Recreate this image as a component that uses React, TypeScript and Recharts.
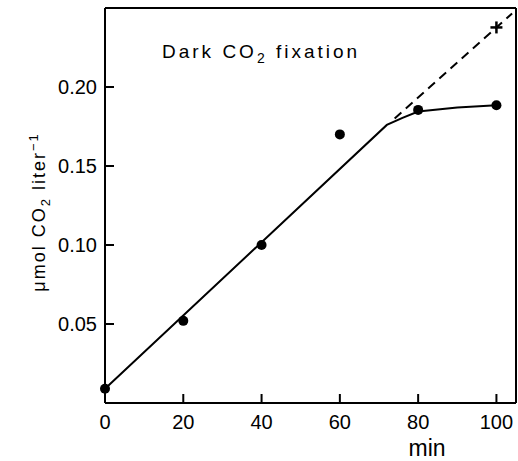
import React from 'react';
import { ComposedChart, Line, Scatter, XAxis, YAxis, ReferenceLine, Customized } from 'recharts';

const timeMin = [0, 20, 40, 60, 80, 100];
const measured = [0.009, 0.052, 0.1, 0.17, 0.1855, 0.1885];
const fitX = [0, 72, 76, 80, 90, 100];
const fitY = [0.009, 0.176, 0.1805, 0.1845, 0.187, 0.1885];
const extX = [74, 104];
const extY = [0.18, 0.2465];
const crossX = [100];
const crossY = [0.2377];
const xTicks = [0, 20, 40, 60, 80, 100];
const yTicks = [0.05, 0.1, 0.15, 0.2];

const pointData = timeMin.map((x, i) => ({ x, y: measured[i] }));
const fitData = fitX.map((x, i) => ({ x, y: fitY[i] }));
const extData = extX.map((x, i) => ({ x, y: extY[i] }));
const crossData = crossX.map((x, i) => ({ x, y: crossY[i] }));

const FONT = '"Liberation Sans", Arial, sans-serif';
// inward tick mark lengths, in axis units (about 9 px each)
const X_TICK_LEN = 0.0057;
const Y_TICK_LEN = 2.3;

const YTick = (p: any) => (
  <text x={Number(p.x)} y={Number(p.y)} dy="0.36em" textAnchor="end" fontFamily={FONT} fontSize={20} fill="#000">
    {Number(p.payload.value).toFixed(2)}
  </text>
);

const XTick = (p: any) => (
  <text x={Number(p.x)} y={Number(p.y)} textAnchor="middle" fontFamily={FONT} fontSize={20} fill="#000">
    {p.payload.value}
  </text>
);

const Dot = (p: any) => <circle cx={p.cx} cy={p.cy} r={5} fill="#000" />;
const Cross = (p: any) => (
  <g stroke="#000" strokeWidth={2.5}>
    <line x1={p.cx - 6} y1={p.cy} x2={p.cx + 6} y2={p.cy} />
    <line x1={p.cx} y1={p.cy - 6} x2={p.cx} y2={p.cy + 6} />
  </g>
);

const Title = () => (
  <text x={162} y={58} fontFamily={FONT} fontSize={19} letterSpacing={3} fill="#000">
    <tspan>Dark CO</tspan>
    <tspan dy={5} fontSize={14}>2</tspan>
    <tspan dy={-5}> fixation</tspan>
  </text>
);

const YLabel = () => (
  <text
    x={45}
    y={212}
    transform="rotate(-90, 45, 212)"
    textAnchor="middle"
    fontFamily={FONT}
    fontSize={18}
    letterSpacing={2}
    fill="#000"
  >
    <tspan>μmol CO</tspan>
    <tspan dy={5} fontSize={13}>2</tspan>
    <tspan dy={-5}> liter</tspan>
    <tspan dy={-7} fontSize={13}>−1</tspan>
  </text>
);

const XLabel = () => (
  <text x={427} y={456} textAnchor="middle" fontFamily={FONT} fontSize={23} fill="#000">
    min
  </text>
);

const axisLineStyle = { stroke: '#000', strokeWidth: 2 };

export default function App() {
  return (
    <div style={{ position: 'absolute', left: 0, top: 0, background: '#fff' }}>
      <ComposedChart width={518} height={461} margin={{ top: 7, right: 1, bottom: 0, left: 45 }}>
        <XAxis
          type="number"
          dataKey="x"
          domain={[0, 105]}
          ticks={xTicks}
          height={58}
          tickSize={0}
          tickMargin={26}
          tick={XTick}
          tickLine={false}
          axisLine={axisLineStyle}
        />
        <XAxis
          xAxisId="top"
          orientation="top"
          type="number"
          dataKey="x"
          domain={[0, 105]}
          height={1}
          tick={false}
          tickLine={false}
          axisLine={axisLineStyle}
        />
        <YAxis
          type="number"
          dataKey="y"
          domain={[0, 0.25]}
          ticks={yTicks}
          width={60}
          tickSize={0}
          tickMargin={8}
          tick={YTick}
          tickLine={false}
          axisLine={axisLineStyle}
        />
        <YAxis
          yAxisId="right"
          orientation="right"
          type="number"
          dataKey="y"
          domain={[0, 0.25]}
          width={1}
          tick={false}
          tickLine={false}
          axisLine={axisLineStyle}
        />
        {xTicks.map((t) => (
          <ReferenceLine
            key={`xt${t}`}
            segment={[{ x: t, y: 0 }, { x: t, y: X_TICK_LEN }]}
            stroke="#000"
            strokeWidth={2}
          />
        ))}
        {yTicks.map((t) => (
          <ReferenceLine
            key={`yt${t}`}
            segment={[{ x: 0, y: t }, { x: Y_TICK_LEN, y: t }]}
            stroke="#000"
            strokeWidth={2}
          />
        ))}
        <Line
          data={extData}
          dataKey="y"
          type="linear"
          stroke="#000"
          strokeWidth={2}
          strokeDasharray="9 6"
          dot={false}
          isAnimationActive={false}
        />
        <Line
          data={fitData}
          dataKey="y"
          type="linear"
          stroke="#000"
          strokeWidth={2}
          dot={false}
          isAnimationActive={false}
        />
        <Scatter data={pointData} dataKey="y" shape={Dot} isAnimationActive={false} />
        <Scatter data={crossData} dataKey="y" shape={Cross} isAnimationActive={false} />
        <Customized component={Title} />
        <Customized component={YLabel} />
        <Customized component={XLabel} />
      </ComposedChart>
    </div>
  );
}
